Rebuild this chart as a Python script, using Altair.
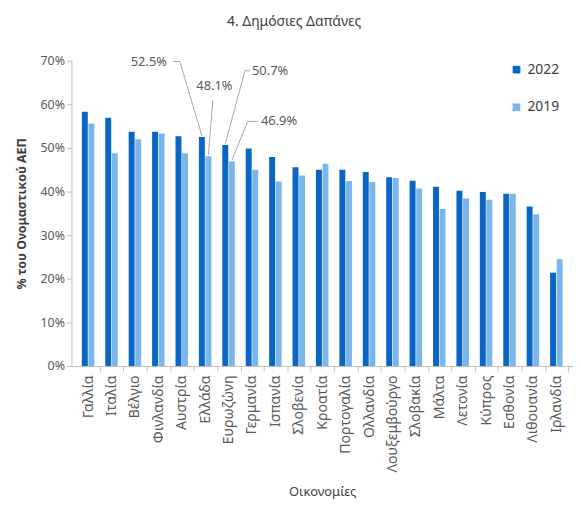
import altair as alt
import pandas as pd

countries = ["Γαλλία", "Ιταλία", "Βέλγιο", "Φινλανδία", "Αυστρία", "Ελλάδα", "Ευρωζώνη",
             "Γερμανία", "Ισπανία", "Σλοβενία", "Κροατία", "Πορτογαλία", "Ολλανδία",
             "Λουξεμβούργο", "Σλοβακία", "Μάλτα", "Λετονία", "Κύπρος", "Εσθονία",
             "Λιθουανία", "Ιρλανδία"]
v2022 = [58.3, 56.9, 53.7, 53.7, 52.7, 52.5, 50.7, 49.9, 47.9, 45.6, 45.0, 45.0, 44.5,
         43.3, 42.5, 41.1, 40.2, 39.9, 39.5, 36.6, 21.4]
v2019 = [55.6, 48.8, 52.0, 53.3, 48.8, 48.1, 46.9, 45.0, 42.3, 43.7, 46.4, 42.4, 42.2,
         43.1, 40.7, 36.0, 38.4, 38.1, 39.5, 34.8, 24.5]
series = ["2022", "2019"]
y_ticks = [0, 10, 20, 30, 40, 50, 60, 70]

# annotations (label text, label position in data units)
ann_labels = ["52.5%", "48.1%", "50.7%", "46.9%"]
ann_text_x = [1.82, 4.62, 7.0, 7.38]
ann_text_y = [69.8, 64.1, 67.7, 56.1]
# leader start / bend points (data units), end at the bar top
ann_country = ["Ελλάδα", "Ελλάδα", "Ευρωζώνη", "Ευρωζώνη"]
ann_series = ["2022", "2019", "2022", "2019"]
ann_start = [(3.62, 69.8), (5.33, 61.0), (6.92, 67.7), (7.25, 56.1)]
ann_bend = [(3.92, 69.8), None, (6.70, 67.7), (6.82, 56.1)]

DARK = "#0a66c4"
LIGHT = "#7ab6ea"
GRAY = "#595959"
FONT = "Noto Sans"
OFF = 0.14

rows = []
for i, c in enumerate(countries):
    rows.append({"country": c, "idx": i, "series": "2022", "value": v2022[i]})
    rows.append({"country": c, "idx": i, "series": "2019", "value": v2019[i]})
df = pd.DataFrame(rows)

label_expr = "[" + ",".join("'" + c + "'" for c in countries) + "][round(datum.value)]"

x_scale = alt.Scale(domain=[-0.5, len(countries) - 0.5], nice=False, zero=False)
y_scale = alt.Scale(domain=[0, 70], nice=False)

x_axis = alt.Axis(values=list(range(len(countries))), labelExpr=label_expr,
                  labelAngle=-90, tickOffset=12.05, labelOffset=-12.05,
                  labelOverlap=False, labelBound=False, labelFlush=False,
                  grid=False, tickSize=5, labelPadding=4, titlePadding=14,
                  labelFontSize=14.2, titleFontSize=13, titleFontWeight="normal")
y_axis = alt.Axis(values=y_ticks, labelExpr="datum.value + '%'", grid=False,
                  tickSize=5, labelFontSize=12.5, titleFontSize=12.5,
                  titleFontWeight="bold", titlePadding=12)
X_TITLE = "Οικονομίες"
Y_TITLE = "% του Ονομαστικού ΑΕΠ"

bars = alt.Chart(df).transform_calculate(
    pos="datum.idx + (datum.series == '2022' ? -%f : %f)" % (OFF, OFF)
).mark_bar(width=6).encode(
    x=alt.X("pos:Q", scale=x_scale, title=X_TITLE, axis=x_axis),
    y=alt.Y("value:Q", scale=y_scale, title=Y_TITLE, axis=y_axis),
    color=alt.Color("series:N", scale=alt.Scale(domain=series, range=[DARK, LIGHT]),
                    legend=alt.Legend(title=None, orient="none", legendX=442, legendY=2,
                                      symbolType="square", symbolSize=60,
                                      labelFontSize=14, labelColor="#404040",
                                      rowPadding=24)),
)

# annotation texts
tdf = pd.DataFrame({"label": ann_labels, "x": ann_text_x, "y": ann_text_y})
texts = alt.Chart(tdf).mark_text(align="left", baseline="middle", fontSize=13,
                                 color=GRAY, font=FONT).encode(
    x=alt.X("x:Q", scale=x_scale, title=X_TITLE, axis=x_axis),
    y=alt.Y("y:Q", scale=y_scale, title=Y_TITLE, axis=y_axis),
    text="label:N")

# leader lines
lrows = []
for k in range(len(ann_labels)):
    i = countries.index(ann_country[k])
    val = v2022[i] if ann_series[k] == "2022" else v2019[i]
    ex = i + (-OFF if ann_series[k] == "2022" else OFF)
    pts = [ann_start[k]]
    if ann_bend[k] is not None:
        pts.append(ann_bend[k])
    pts.append((ex, val + 0.3))
    for o, (px, py) in enumerate(pts):
        lrows.append({"g": k, "o": o, "x": px, "y": py})
ldf = pd.DataFrame(lrows)
lines = alt.Chart(ldf).mark_line(color="#a6a6a6", strokeWidth=1).encode(
    x=alt.X("x:Q", scale=x_scale, title=X_TITLE, axis=x_axis),
    y=alt.Y("y:Q", scale=y_scale, title=Y_TITLE, axis=y_axis),
    detail="g:N", order="o:Q")

chart = alt.layer(bars, lines, texts).properties(
    width=506, height=308,
    title=alt.Title("4. Δημόσιες Δαπάνες", fontSize=14, fontWeight="normal",
                    color="#404040", font=FONT, anchor="middle", frame="bounds",
                    offset=26),
    padding={"left": 7, "top": 5, "right": 0, "bottom": 2},
).configure_view(stroke=None).configure_axis(
    domainColor="#bfbfbf", tickColor="#bfbfbf", labelColor=GRAY, titleColor="#404040",
    labelFont=FONT, titleFont=FONT, labelOverlap=False,
).configure_legend(labelFont=FONT)

chart.save("out.html", embed_options={"renderer": "svg", "actions": False})
